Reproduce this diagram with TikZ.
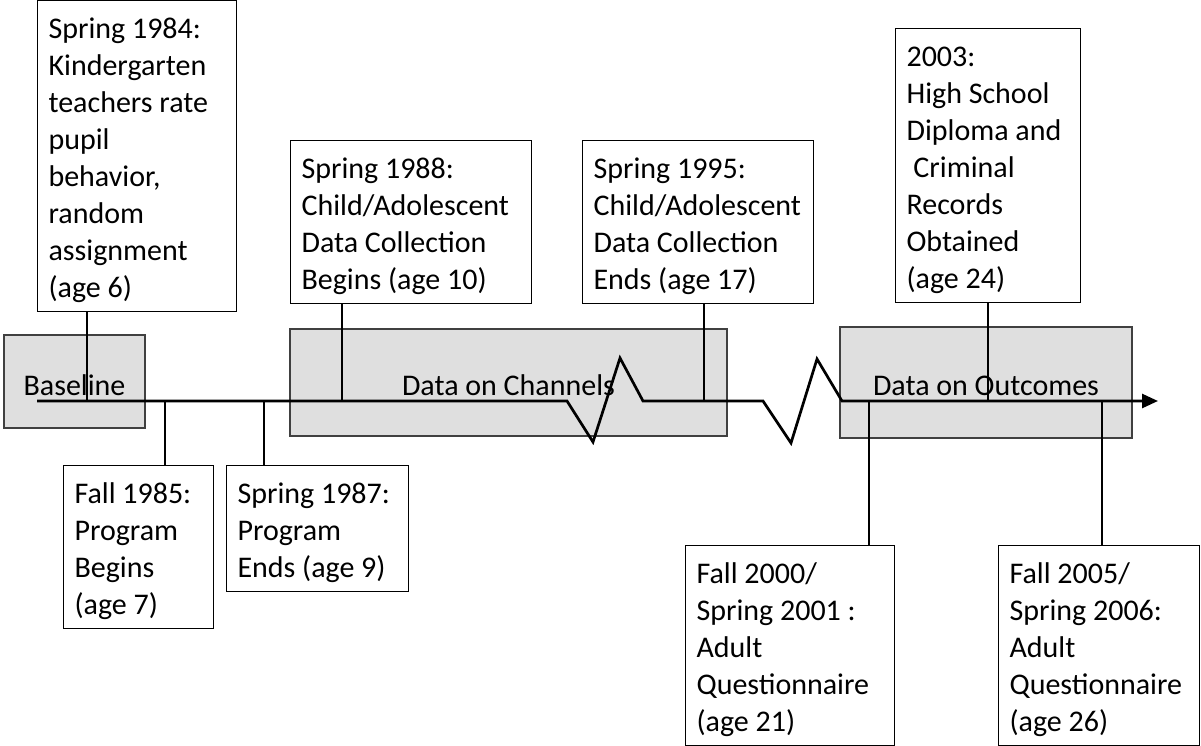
\documentclass[tikz,border=0pt]{standalone}
\usepackage{fontspec}
\setmainfont{Carlito}
\usetikzlibrary{arrows.meta}

\begin{document}
\begin{tikzpicture}[
  x=1pt, y=-1pt,
  event/.style={draw, line width=1.1pt, anchor=north west, align=flush left, inner xsep=11pt, inner ysep=3.5pt,
    font=\fontsize{30}{37}\selectfont,
    execute at begin node={\spaceskip=0pt\xspaceskip=0pt\rule{0pt}{34pt}},
    execute at end node=\rule[-11pt]{0pt}{0pt}},
  phase/.style={draw=black!75, fill=gray!25, line width=1.3pt, inner sep=0pt, anchor=base,
    font=\fontsize{30}{37}\selectfont},
  tick/.style={line width=2.7pt},
  >={Triangle[length=16pt, width=14pt]}
]
\useasboundingbox (0,0) rectangle (1201,746);

% shaded periods
\node[phase, minimum width=141pt, text height=60pt, text depth=33pt] (base) at (74.5,395) {Baseline};
\node[phase, minimum width=437pt, text height=66pt, text depth=41pt] (chan) at (508.5,395) {Data on Channels};
\node[phase, minimum width=292pt, text height=68pt, text depth=43pt] (outc) at (986,395) {Data on Outcomes};

% points on the time line
\coordinate (start) at (37,401);
\coordinate (t84) at (87,401);
\coordinate (t85) at (165,401);
\coordinate (t87) at (264,401);
\coordinate (t88) at (342,401);
\coordinate (t95) at (704,401);
\coordinate (t00) at (869,401);
\coordinate (t03) at (988,401);
\coordinate (t05) at (1102,401);
\coordinate (end) at (1158,401);

% time line with the two breaks
\draw[tick, ->] (start) -- (567,401) -- (593,442) -- (620,358) -- (643,401)
  -- (763,401) -- (791,443) -- (817,359) -- (842,401) -- (end);

% events above
\node[event, text width=177pt] (sp84) at (37,0)
  {Spring 1984:\\Kindergarten\\teachers rate\\pupil\\behavior,\\random\\assignment\\(age 6)};
\node[event, text width=219pt] (sp88) at (290,140)
  {Spring 1988:\\Child/Adolescent\\Data Collection\\Begins (age 10)};
\node[event, text width=209pt] (sp95) at (582,140)
  {Spring 1995:\\Child/Adolescent\\Data Collection\\Ends (age 17)};
\node[event, text width=163pt] (y2003) at (895,28)
  {2003:\\High School\\Diploma and\\\hspace*{0.23em}Criminal\\Records\\Obtained\\(age 24)};

% events below
\node[event, text width=128pt] (f85) at (63,465)
  {Fall 1985:\\Program\\Begins\\(age 7)};
\node[event, text width=160pt] (sp87) at (226,465)
  {Spring 1987:\\Program\\Ends (age 9)};
\node[event, text width=187pt] (f00) at (685,545)
  {Fall 2000/\\Spring 2001 :\\Adult\\Questionnaire\\(age 21)};
\node[event, text width=179pt] (f05) at (998,545)
  {Fall 2005/\\Spring 2006:\\Adult\\Questionnaire\\(age 26)};

% ticks
\draw[tick] (sp84.south -| t84) -- (t84);
\draw[tick] (sp88.south -| t88) -- (t88);
\draw[tick] (sp95.south -| t95) -- (t95);
\draw[tick] (y2003.south -| t03) -- (t03);
\draw[tick] (t85) -- (f85.north -| t85);
\draw[tick] (t87) -- (sp87.north -| t87);
\draw[tick] (t00) -- (f00.north -| t00);
\draw[tick] (t05) -- (f05.north -| t05);

\end{tikzpicture}
\end{document}
